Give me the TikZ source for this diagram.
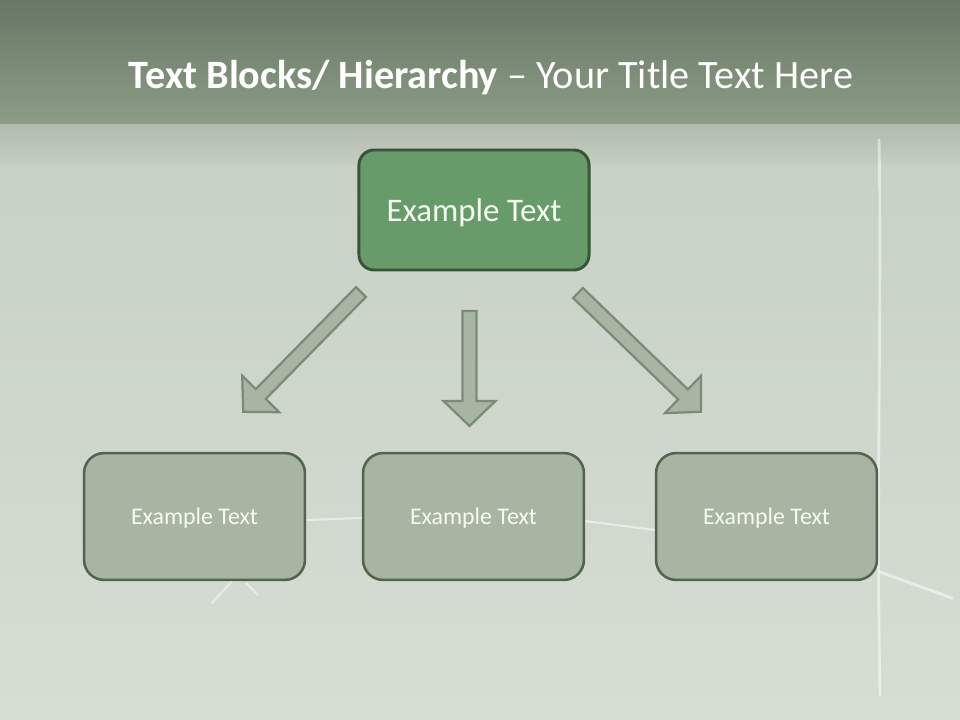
\documentclass[tikz,border=0pt]{standalone}
\usepackage{fontspec}
\setmainfont{Carlito}
\definecolor{bandtop}{RGB}{104, 119, 102}
\definecolor{bandbot}{RGB}{140, 157, 134}
\definecolor{fadetop}{RGB}{176, 188, 173}
\definecolor{boardtop}{RGB}{196, 206, 194}
\definecolor{boardbot}{RGB}{214, 221, 211}
\definecolor{headfill}{RGB}{104, 155, 106}
\definecolor{headline}{RGB}{58, 84, 55}
\definecolor{leaffill}{RGB}{168, 181, 163}
\definecolor{leafline}{RGB}{84, 99, 80}
\definecolor{arrowline}{RGB}{124, 139, 119}
\definecolor{chalktext}{RGB}{246, 250, 242}
\usetikzlibrary{calc}

% block arrow: start point, angle, length (all in picture units)
\newcommand{\blockarrow}[3]{%
  \draw[arrowbox, shift={(#1)}, rotate=#2]
    (0,-7) -- (#3-25,-7) -- (#3-25,-26) -- (#3,0) -- (#3-25,26) -- (#3-25,7) -- (0,7) -- cycle;}

\tikzset{
  headbox/.style={draw=headline, fill=headfill, line width=2.1pt, rounded corners=0.38cm,
    minimum width=5.75cm, minimum height=3cm, text depth=0pt, text=chalktext,
    font=\fontsize{23.4}{28}\selectfont},
  leafbox/.style={draw=leafline, fill=leaffill, line width=1.8pt, rounded corners=0.5cm,
    minimum width=5.52cm, minimum height=3.17cm, text depth=0pt, text=chalktext,
    font=\fontsize{17}{20}\selectfont},
  arrowbox/.style={draw=arrowline, fill=leaffill, line width=1.6pt, line join=miter},
  chalk/.style={white, opacity=0.5, line width=2pt, line cap=round}
}

\begin{document}
\begin{tikzpicture}[x=0.025cm, y=-0.025cm]
  \useasboundingbox (0,0) rectangle (960,720);

  % board and title band
  \shade[top color=boardtop, bottom color=boardbot] (0,0) rectangle (960,720);
  \shade[top color=bandtop, bottom color=bandbot] (0,0) rectangle (960,125);
  \shade[top color=fadetop, bottom color=boardtop] (0,125) rectangle (960,165);

  % chalk marks on the board
  \draw[chalk] (879,140) .. controls (882,300) and (876,480) .. (880,695);
  \draw[chalk] (880,572) -- (952,598);
  \draw[chalk, line width=1.5pt] (307,520) -- (362,518);
  \draw[chalk, line width=1.5pt] (585,521) -- (655,530);
  \draw[chalk, line width=1.5pt] (212,603) -- (232,581);
  \draw[chalk, line width=1.5pt] (246,583) -- (258,595);

  % title
  \node[font=\fontsize{28.6}{34}\selectfont, text=white, anchor=base] (title) at (491,89)
    {\textbf{Text Blocks/ Hierarchy} -- Your Title Text Here};

  % hierarchy
  \node[headbox] (top) at (474,210) {Example Text};
  \node[leafbox] (left) at (194.5,516.5) {Example Text};
  \node[leafbox] (mid) at (473.5,516.5) {Example Text};
  \node[leafbox] (right) at (766.5,516.5) {Example Text};

  % arrows
  \blockarrow{361,292}{-134.5}{168}
  \blockarrow{469.5,311}{-90}{115}
  \blockarrow{578,293}{-44}{171}
\end{tikzpicture}
\end{document}
